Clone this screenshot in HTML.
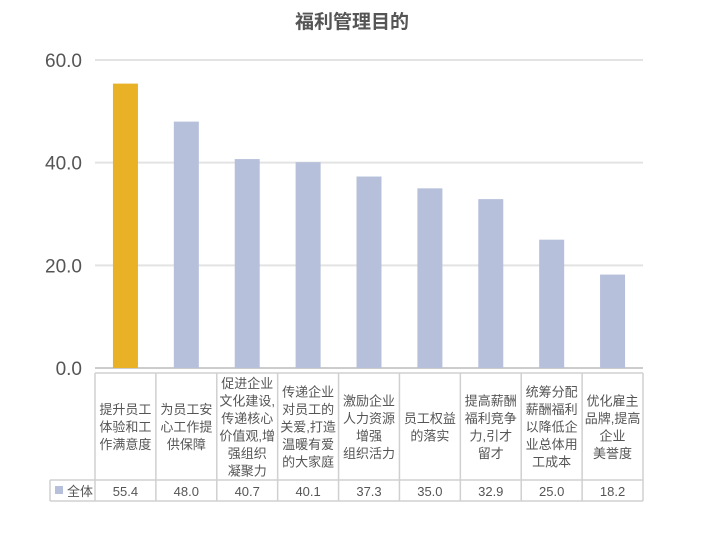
<!DOCTYPE html>
<html><head><meta charset="utf-8"><style>
body{margin:0;background:#fff;}
svg text{font-family:"Liberation Sans","Noto Sans CJK SC",sans-serif;}
</style></head><body>
<svg width="704" height="529" xmlns="http://www.w3.org/2000/svg">
<text x="352" y="28" text-anchor="middle" font-size="19" font-weight="bold" fill="#555">福利管理目的</text>
<g id="grid"></g><g id="bars"></g><g id="table"></g>
</svg>
<script>
const categories=[["提升员工","体验和工","作满意度"],["为员工安","心工作提","供保障"],["促进企业","文化建设,","传递核心","价值观,增","强组织","凝聚力"],["传递企业","对员工的","关爱,打造","温暖有爱","的大家庭"],["激励企业","人力资源","增强","组织活力"],["员工权益","的落实"],["提高薪酬","福利竞争","力,引才","留才"],["统筹分配","薪酬福利","以降低企","业总体用","工成本"],["优化雇主","品牌,提高","企业","美誉度"]];
const values=[55.4,48.0,40.7,40.1,37.3,35.0,32.9,25.0,18.2];
const ticks=[0,20,40,60];
const NS="http://www.w3.org/2000/svg";
const L=95,R=643,Y0=368,Y1=60,max=60;
const colW=(R-L)/values.length;
const y=v=>Y0-(Y0-Y1)*v/max;
const x=i=>L+colW*i;
function mk(t,a,p){const e=document.createElementNS(NS,t);for(const k in a)e.setAttribute(k,a[k]);p.appendChild(e);return e;}
const g=document.getElementById('grid'),b=document.getElementById('bars'),tb=document.getElementById('table');
ticks.forEach(t=>{
 const l=mk('line',{x1:L,x2:R,y1:y(t),y2:y(t),stroke:t===0?'#bbb':'#e3e3e3','stroke-width':t===0?1.5:2},g);
 
 
 const tx=mk('text',{x:82,y:y(t)+7,'text-anchor':'end','font-size':19,fill:'#555'},g);
 tx.textContent=t.toFixed(1);
 
 
});
values.forEach((v,i)=>{
 const r=mk('rect',{x:x(i)+colW/2-12.5,y:y(v),width:25,height:Y0-y(v),fill:i===0?'#e9b226':'#b7c0db'},b);
 
 
});
const T0=373,T1=480,T2=501,LX=50;
[[L,T0,R,T0],[LX,T1,R,T1],[LX,T2,R,T2],[LX,T1,LX,T2]].forEach(c=>{
 const l=mk('line',{x1:c[0],y1:c[1],x2:c[2],y2:c[3],stroke:'#d0d0d0','stroke-width':1.5},tb);
 
 
});
for(let i=0;i<=values.length;i++){
 const l=mk('line',{x1:x(i),y1:T0,x2:x(i),y2:T2,stroke:'#d0d0d0','stroke-width':1.5},tb);
 
 
}
categories.forEach((lines,i)=>{
 const cy=(T0+T1)/2,lh=17.5,start=cy-(lines.length-1)*lh/2+5;
 lines.forEach((s,j)=>{
  const t=mk('text',{x:x(i)+colW/2,y:start+j*lh,'text-anchor':'middle','font-size':13,fill:'#555'},tb);
  t.textContent=s;
  
  
 });
 const vt=mk('text',{x:x(i)+colW/2,y:T2-5,'text-anchor':'middle','font-size':13,fill:'#555'},tb);
 vt.textContent=values[i].toFixed(1);
 
 
});
const sw=mk('rect',{x:55,y:486,width:8,height:8,fill:'#b7c0db'},tb);


const lt=mk('text',{x:67,y:496,'font-size':13,fill:'#555'},tb);
lt.textContent='全体';


</script>
</body></html>
